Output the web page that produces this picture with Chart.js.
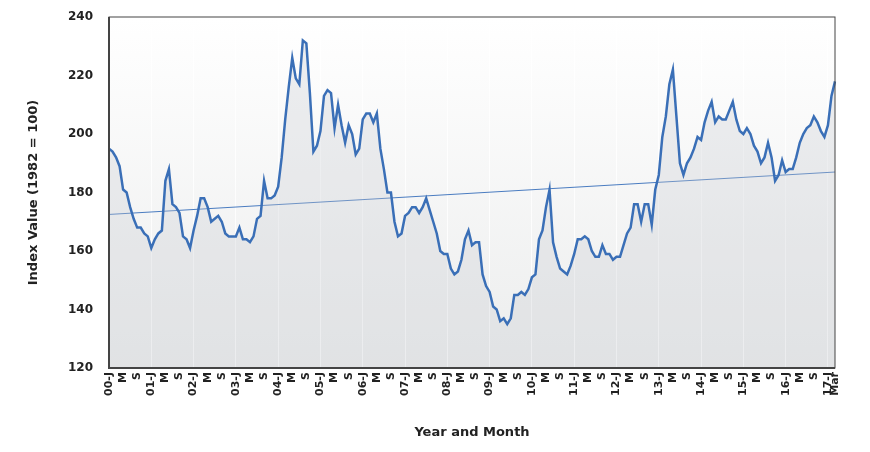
<!DOCTYPE html>
<html lang="en">
<head>
    <meta charset="UTF-8">
    <title>Index Value</title>
    <script src="https://cdn.jsdelivr.net/npm/chart.js"></script>
    <style>
        body { margin: 0; padding: 0; background: #fff; }
        #wrap { width: 870px; height: 452px; }
    </style>
</head>
<body>
    <div id="wrap"><canvas id="chart" width="870" height="452"></canvas></div>
    <script>
        // monthly index values, Jan 2000 .. Mar 2017
        const v2000 = [195,194,192,189,181,180,175,171,168,168,166,165];
        const v2001 = [161,164,166,167,184,188,176,175,173,165,164,161];
        const v2002 = [167,172,178,178,175,170,171,172,170,166,165,165];
        const v2003 = [165,168,164,164,163,165,171,172,184,178,178,179];
        const v2004 = [182,192,205,216,226,219,217,232,231,214,194,196];
        const v2005 = [201,213,215,214,202,210,203,197,203,200,193,195];
        const v2006 = [205,207,207,204,207,195,188,180,180,170,165,166];
        const v2007 = [172,173,175,175,173,175,178,174,170,166,160,159];
        const v2008 = [159,154,152,153,157,164,167,162,163,163,152,148];
        const v2009 = [146,141,140,136,137,135,137,145,145,146,145,147];
        const v2010 = [151,152,164,167,175,181,163,158,154,153,152,155];
        const v2011 = [159,164,164,165,164,160,158,158,162,159,159,157];
        const v2012 = [158,158,162,166,168,176,176,170,176,176,169,181];
        const v2013 = [186,199,206,217,222,206,190,186,190,192,195,199];
        const v2014 = [198,204,208,211,204,206,205,205,208,211,205,201];
        const v2015 = [200,202,200,196,194,190,192,197,192,184,186,191];
        const v2016 = [187,188,188,192,197,200,202,203,206,204,201,199];
        const v2017 = [203,213,218];
        const trendStart = 172.5;
        const trendEnd = 187;

        const values = [].concat(v2000, v2001, v2002, v2003, v2004, v2005, v2006, v2007, v2008,
            v2009, v2010, v2011, v2012, v2013, v2014, v2015, v2016, v2017);

        const monthTags = ['J', '', '', '', 'M', '', '', '', 'S', '', '', ''];
        const labels = values.map((_, i) => {
            const yr = String(Math.floor(i / 12)).padStart(2, '0');
            const m = i % 12;
            if (i === values.length - 1) return 'Mar';
            if (m === 0) return yr + '-J';
            return monthTags[m];
        });

        const trend = values.map((_, i) => i === 0 ? trendStart : (i === values.length - 1 ? trendEnd : null));

        const bgPlugin = {
            id: 'bg',
            beforeDraw(chart) {
                const { ctx, chartArea: a } = chart;
                const g = ctx.createLinearGradient(0, a.top, 0, a.bottom);
                g.addColorStop(0, '#ffffff');
                g.addColorStop(1, '#eceded');
                ctx.save();
                ctx.fillStyle = g;
                ctx.fillRect(a.left, a.top, a.right - a.left, a.bottom - a.top);
                ctx.restore();
            },
            afterDraw(chart) {
                const { ctx, chartArea: a } = chart;
                ctx.save();
                ctx.strokeStyle = '#444';
                ctx.lineWidth = 1;
                ctx.strokeRect(a.left, a.top, a.right - a.left, a.bottom - a.top);
                ctx.lineWidth = 2;
                ctx.beginPath();
                ctx.moveTo(a.left, a.top);
                ctx.lineTo(a.left, a.bottom);
                ctx.lineTo(a.right, a.bottom);
                ctx.stroke();
                ctx.restore();
            }
        };

        const tickFont = { family: 'DejaVu Sans', size: 11, weight: 'bold' };

        new Chart(document.getElementById('chart'), {
            type: 'line',
            data: {
                labels: labels,
                datasets: [
                    {
                        data: values,
                        borderColor: '#3a6fb7',
                        borderWidth: 2.5,
                        backgroundColor: 'rgba(200,203,207,0.3)',
                        fill: 'start',
                        pointRadius: 0,
                        tension: 0
                    },
                    {
                        data: trend,
                        borderColor: '#4a7cc0',
                        borderWidth: 1,
                        spanGaps: true,
                        pointRadius: 0,
                        fill: false
                    }
                ]
            },
            options: {
                responsive: false,
                animation: false,
                layout: { padding: { left: 22, right: 35, top: 17, bottom: 8 } },
                plugins: { legend: { display: false }, tooltip: { enabled: false } },
                scales: {
                    x: {
                        offset: false,
                        grid: {
                            drawTicks: false,
                            color: (c) => (c.index % 12 === 0 ? 'rgba(255,255,255,0.8)' : 'rgba(0,0,0,0)')
                        },
                        border: { display: false },
                        ticks: {
                            autoSkip: false,
                            maxRotation: 90,
                            minRotation: 90,
                            padding: 4,
                            color: '#222',
                            font: tickFont,
                            callback: (v, i) => labels[i]
                        },
                        title: {
                            display: true,
                            text: 'Year and Month',
                            color: '#222',
                            font: { family: 'DejaVu Sans', size: 13, weight: 'bold' },
                            padding: { top: 6 }
                        },
                        afterFit: (s) => { s.height = 76; }
                    },
                    y: {
                        min: 120,
                        max: 240,
                        grid: { display: false },
                        border: { display: false },
                        ticks: {
                            stepSize: 20,
                            color: '#222',
                            font: { family: 'DejaVu Sans', size: 12, weight: 'bold' },
                            padding: 8
                        },
                        title: {
                            display: true,
                            text: 'Index Value (1982 = 100)',
                            color: '#222',
                            font: { family: 'DejaVu Sans', size: 13, weight: 'bold' }
                        },
                        afterFit: (s) => { s.width = 87; }
                    }
                }
            },
            plugins: [bgPlugin]
        });
    </script>
</body>
</html>
